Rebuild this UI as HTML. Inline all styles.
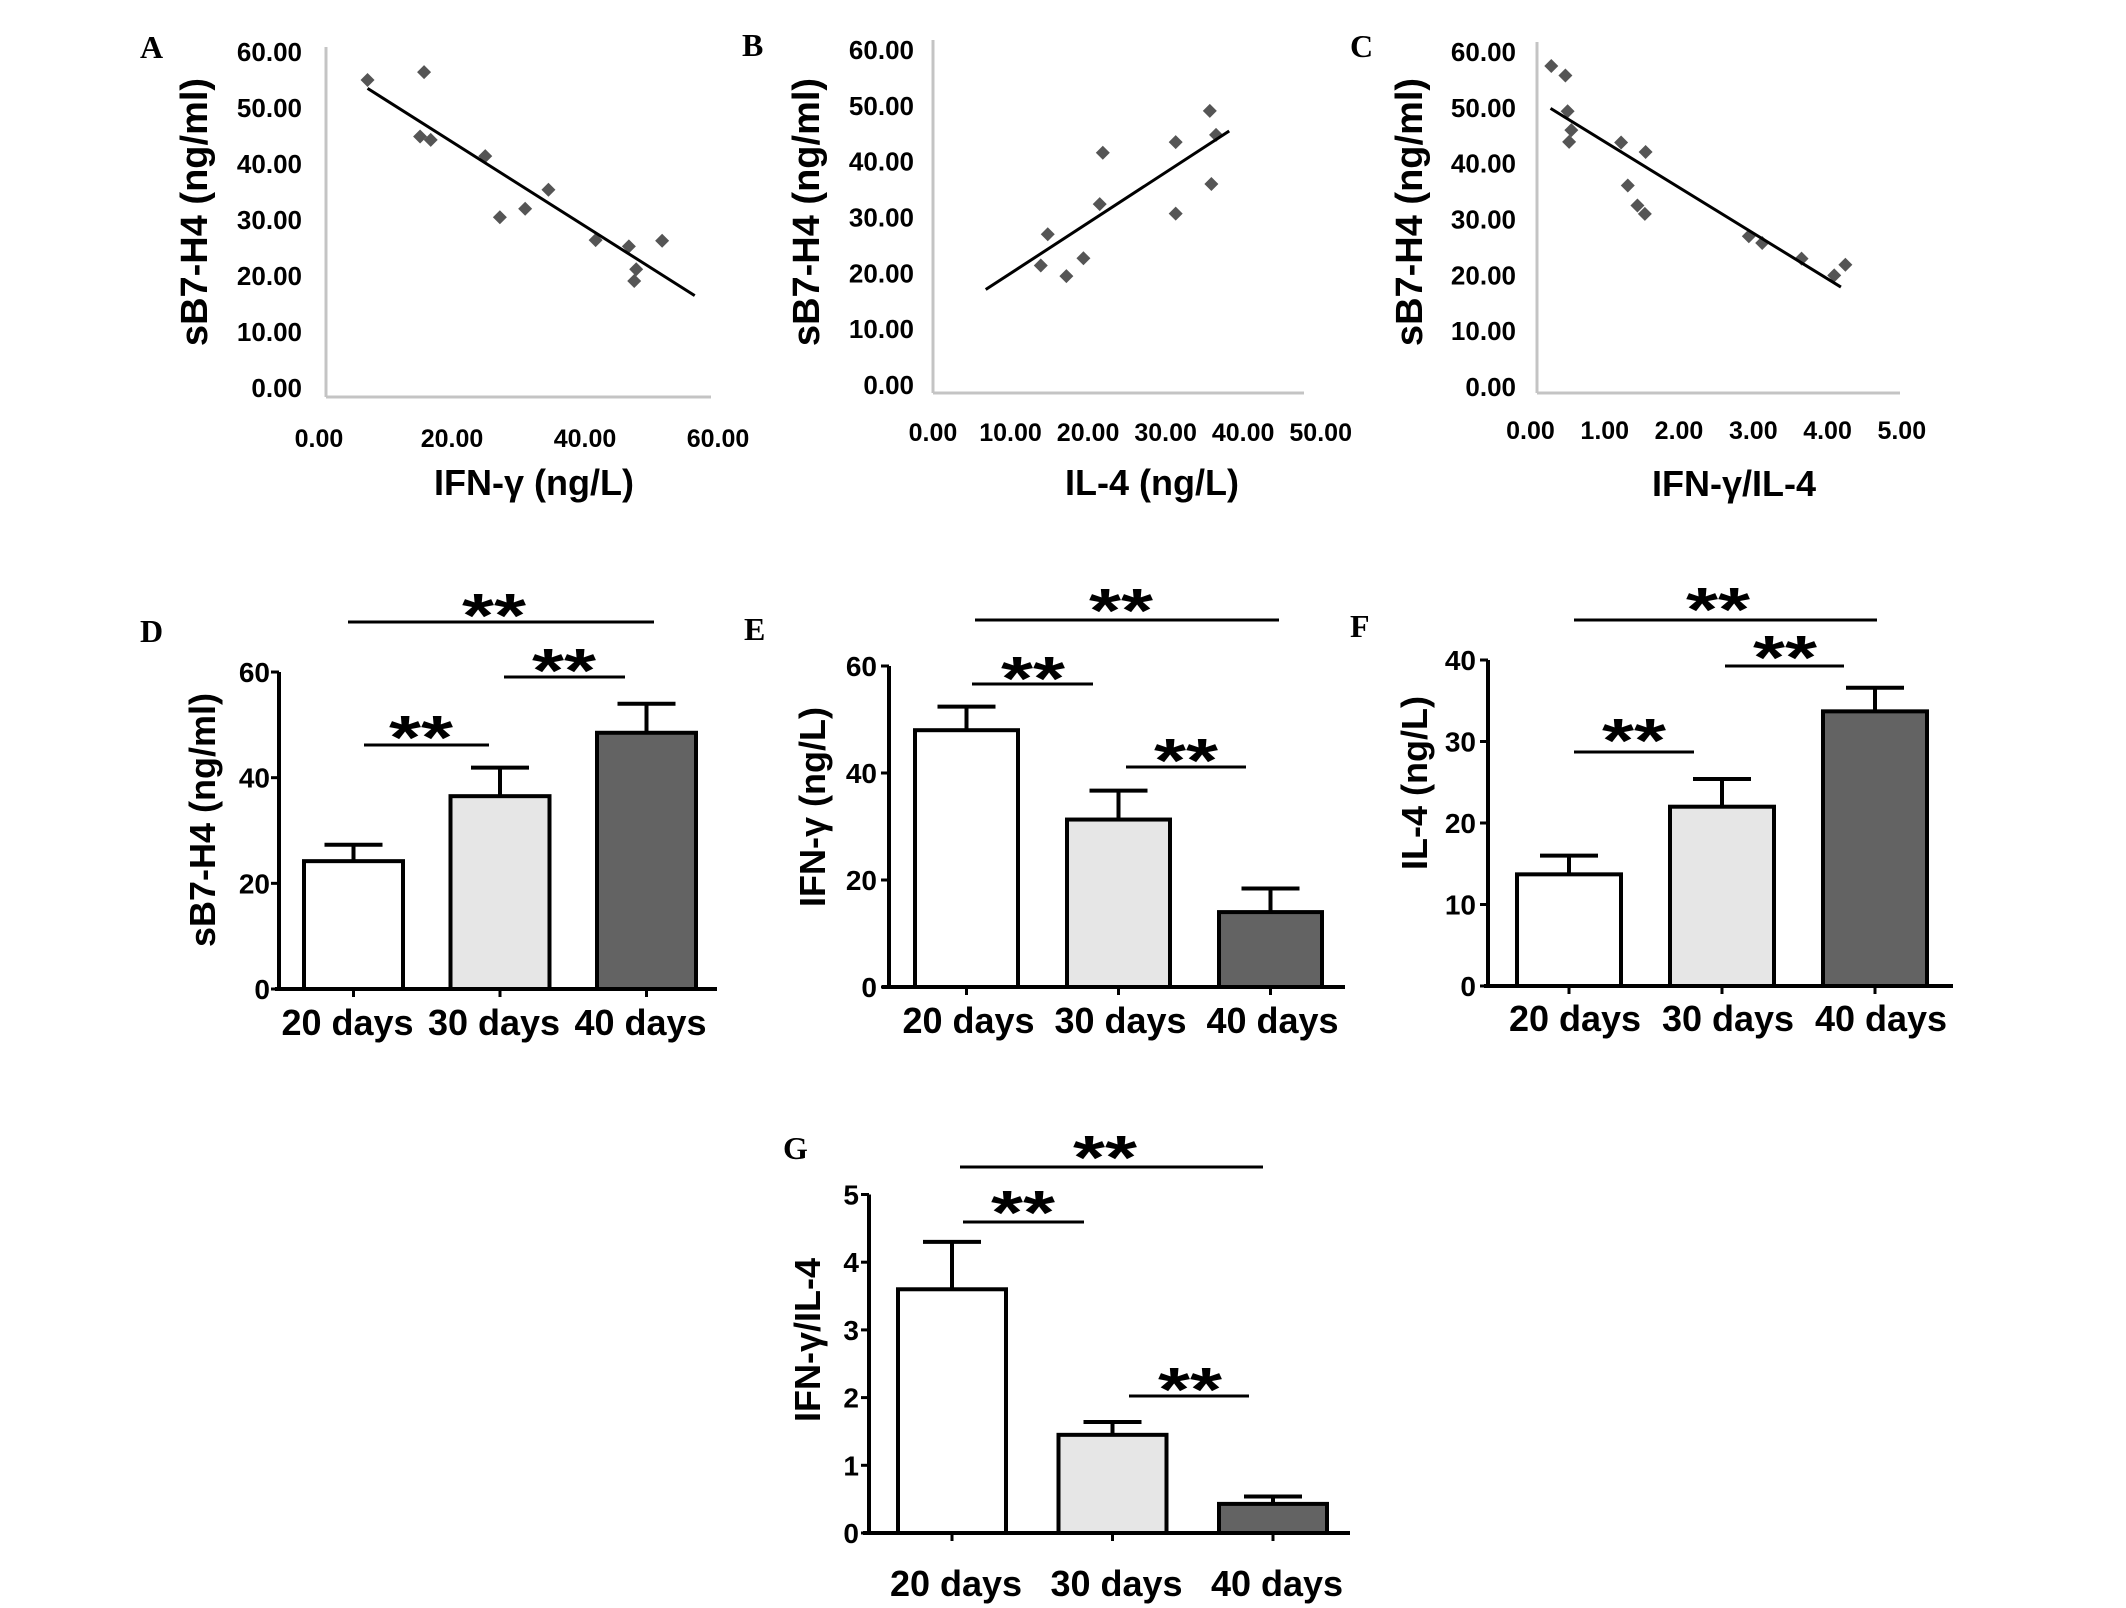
<!DOCTYPE html>
<html><head><meta charset="utf-8"><style>
html,body{margin:0;padding:0;background:#fff;}
svg{display:block;font-family:"Liberation Sans",sans-serif;font-weight:bold;}
.pl{font-family:"Liberation Serif",serif;font-weight:bold;font-size:32px;}
</style></head><body>
<svg id="fig" width="2126" height="1608" viewBox="0 0 2126 1608" xmlns="http://www.w3.org/2000/svg"></svg>
<script>
// ---- Scatter data ----
const aX = [7.3, 15.8, 15.2, 16.8, 25.0, 27.2, 31.0, 34.5, 41.6, 46.6, 47.7, 47.4, 51.6];
const aY = [55.0, 56.4, 44.9, 44.3, 41.4, 30.5, 32.0, 35.4, 26.4, 25.3, 21.2, 19.1, 26.3];
const aFitX = [7.3, 56.5];
const aFitY = [53.5, 16.5];
const bX = [14.8, 13.9, 17.2, 19.4, 21.5, 21.9, 31.3, 31.3, 35.7, 36.5, 35.9];
const bY = [27.0, 21.4, 19.5, 22.7, 32.4, 41.6, 43.5, 30.7, 49.1, 44.8, 36.0];
const bFitX = [6.8, 38.2];
const bFitY = [17.1, 45.5];
const cX = [0.28, 0.47, 0.50, 0.55, 0.52, 1.22, 1.55, 1.31, 1.44, 1.54, 2.94, 3.12, 3.65, 4.09, 4.24];
const cY = [57.5, 55.8, 49.4, 46.0, 43.9, 43.8, 42.1, 36.1, 32.5, 31.0, 27.0, 25.8, 23.0, 20.0, 21.9];
const cFitX = [0.27, 4.18];
const cFitY = [49.9, 17.9];
const scatterYTicks = [0, 10, 20, 30, 40, 50, 60];
const aXTicks = [0, 20, 40, 60];
const bXTicks = [0, 10, 20, 30, 40, 50];
const cXTicks = [0, 1, 2, 3, 4, 5];
// ---- Bar data ----
const categories = ["20 days", "30 days", "40 days"];
const dVals = [24.2, 36.5, 48.5];
const dErr = [27.3, 41.9, 54.0];
const eVals = [48.0, 31.3, 14.0];
const eErr = [52.4, 36.7, 18.4];
const fVals = [13.7, 22.0, 33.7];
const fErr = [16.0, 25.4, 36.6];
const gVals = [3.60, 1.45, 0.43];
const gErr = [4.30, 1.64, 0.54];
const dTicks = [0, 20, 40, 60];
const eTicks = [0, 20, 40, 60];
const fTicks = [0, 10, 20, 30, 40];
const gTicks = [0, 1, 2, 3, 4, 5];

const NS = "http://www.w3.org/2000/svg";
const svg = document.getElementById("fig");
function mk(tag, attrs, parent, txt) {
  const e = document.createElementNS(NS, tag);
  for (const k in attrs) e.setAttribute(k, attrs[k]);
  if (txt !== undefined) e.textContent = txt;
  (parent || svg).appendChild(e);
  return e;
}
function fmt2(v){ return v.toFixed(2); }

function scatter(c) {
  const g = mk("g", {});
  
  
  const xs = v => c.x0 + c.xs * v;
  const ys = v => c.y0 - c.ys * v;
  const lbl = mk("text", {x: c.lx, y: c.ly, class: "pl"}, g, c.letter);
  
  
  const ya = mk("line", {x1: c.ax, y1: c.top, x2: c.ax, y2: c.axY, stroke: "#c4c4c4", "stroke-width": 3}, g);
  
  
  const xa = mk("line", {x1: c.ax, y1: c.axY, x2: c.xEnd, y2: c.axY, stroke: "#c4c4c4", "stroke-width": 3}, g);
  
  
  c.yTicks.forEach(t => {
    const e = mk("text", {x: c.ylx, y: ys(t) + 9, "text-anchor": "end", "font-size": 26}, g, fmt2(t));
    
    
  });
  c.xTicks.forEach(t => {
    const e = mk("text", {x: xs(t), y: c.xly + 9, "text-anchor": "middle", "font-size": 25}, g, fmt2(t));
    
    
  });
  const xt = mk("text", {x: c.xtx, y: c.xty + 13, "text-anchor": "middle", "font-size": 36}, g, c.xTitle);
  
  
  const yt = mk("text", {x: 0, y: 0, "text-anchor": "middle", "font-size": 38, transform: `translate(${c.ytx + 13},${c.yty}) rotate(-90)`}, g, c.yTitle);
  
  
  c.px.forEach((v, i) => {
    const cx = xs(v), cy = ys(c.py[i]);
    const p = mk("polygon", {points: `${cx},${cy-7} ${cx+7},${cy} ${cx},${cy+7} ${cx-7},${cy}`, fill: "#555"}, g);
    
    
  });
  const fl = mk("line", {x1: xs(c.fx[0]), y1: ys(c.fy[0]), x2: xs(c.fx[1]), y2: ys(c.fy[1]), stroke: "#000", "stroke-width": 3}, g);
  
  
}

scatter({name: "scatter-a", letter: "A", lx: 140, ly: 58, x0: 319, xs: 6.65, y0: 388, ys: 5.6, ax: 326, top: 47, axY: 397, xEnd: 711,
  ylx: 302, xly: 438, yTicks: scatterYTicks, xTicks: aXTicks, xTitle: "IFN-γ (ng/L)", xtx: 534, xty: 482,
  yTitle: "sB7-H4 (ng/ml)", ytx: 194, yty: 212, px: aX, py: aY, fx: aFitX, fy: aFitY});
scatter({name: "scatter-b", letter: "B", lx: 742, ly: 56, x0: 933, xs: 7.754, y0: 385, ys: 5.583, ax: 933, top: 40, axY: 393, xEnd: 1304,
  ylx: 914, xly: 432, yTicks: scatterYTicks, xTicks: bXTicks, xTitle: "IL-4 (ng/L)", xtx: 1152, xty: 482,
  yTitle: "sB7-H4 (ng/ml)", ytx: 806, yty: 212, px: bX, py: bY, fx: bFitX, fy: bFitY});
scatter({name: "scatter-c", letter: "C", lx: 1350, ly: 57, x0: 1530.5, xs: 74.26, y0: 387, ys: 5.583, ax: 1537, top: 42, axY: 393, xEnd: 1900,
  ylx: 1516, xly: 430, yTicks: scatterYTicks, xTicks: cXTicks, xTitle: "IFN-γ/IL-4", xtx: 1734, xty: 483,
  yTitle: "sB7-H4 (ng/ml)", ytx: 1409, yty: 212, px: cX, py: cY, fx: cFitX, fy: cFitY});

const fills = ["#ffffff", "#e6e6e6", "#636363"];
function bars(c) {
  const g = mk("g", {});
  
  
  const ys = v => c.y0 - c.ys * v;
  const bx = i => c.left + i * c.step;
  const cx = i => bx(i) + c.w / 2;
  const lbl = mk("text", {x: c.lx, y: c.ly, class: "pl"}, g, c.letter);
  
  
  c.vals.forEach((v, i) => {
    const r = mk("rect", {x: bx(i), y: ys(v), width: c.w, height: c.y0 - ys(v), fill: fills[i], stroke: "#000", "stroke-width": 4}, g);
    
    
    const el = mk("path", {d: `M${cx(i)},${ys(v)} V${ys(c.err[i])} M${cx(i)-29},${ys(c.err[i])} H${cx(i)+29}`, stroke: "#000", "stroke-width": 4, fill: "none"}, g);
    
    
    const tk = mk("line", {x1: cx(i), y1: c.y0, x2: cx(i), y2: c.y0 + 8, stroke: "#000", "stroke-width": 3}, g);
    
    
    const t = mk("text", {x: cx(i) + c.catDx, y: c.catY + 13, "text-anchor": "middle", "font-size": 36}, g, categories[i]);
    
    
  });
  const top = ys(c.ticks[c.ticks.length - 1]);
  const ya = mk("line", {x1: c.ax, y1: top, x2: c.ax, y2: c.y0, stroke: "#000", "stroke-width": 4}, g);
  
  
  const xa = mk("line", {x1: c.xa0, y1: c.y0, x2: c.xa1, y2: c.y0, stroke: "#000", "stroke-width": 4}, g);
  
  
  c.ticks.forEach(t => {
    const tk = mk("line", {x1: c.ax - 8, y1: ys(t), x2: c.ax, y2: ys(t), stroke: "#000", "stroke-width": 3}, g);
    
    
    const e = mk("text", {x: c.tlx, y: ys(t) + 10, "text-anchor": "end", "font-size": 28}, g, String(t));
    
    
  });
  const yt = mk("text", {x: 0, y: 0, "text-anchor": "middle", "font-size": 36, transform: `translate(${c.ytx + 13},${c.yty}) rotate(-90)`}, g, c.yTitle);
  
  
  c.sig.forEach(s => {
    const l = mk("line", {x1: s[0], y1: s[2], x2: s[1], y2: s[2], stroke: "#000", "stroke-width": 3}, g);
    
    
    const st = mk("text", {x: s[3], y: s[4] + 34, "text-anchor": "middle", "font-size": 62, textLength: 64, lengthAdjust: "spacingAndGlyphs"}, g, "**");
    
    
  });
}

bars({name: "bar-chart-d", letter: "D", lx: 140, ly: 642, vals: dVals, err: dErr, ticks: dTicks, y0: 989, ys: 5.283,
  left: 304, step: 146.5, w: 99, ax: 279, xa0: 275, xa1: 717, tlx: 270, catY: 1022, catDx: -6,
  yTitle: "sB7-H4 (ng/ml)", ytx: 202, yty: 820,
  sig: [[348, 654, 622, 494, 603], [504, 625, 677, 564, 658], [364, 489, 745, 421, 725]]});
bars({name: "bar-chart-e", letter: "E", lx: 744, ly: 640, vals: eVals, err: eErr, ticks: eTicks, y0: 987, ys: 5.35,
  left: 915, step: 152, w: 103, ax: 889, xa0: 882, xa1: 1345, tlx: 877, catY: 1020, catDx: 2,
  yTitle: "IFN-γ (ng/L)", ytx: 812, yty: 807,
  sig: [[975, 1279, 620, 1121, 598], [972, 1093, 684, 1033, 666], [1126, 1246, 767, 1186, 748]]});
bars({name: "bar-chart-f", letter: "F", lx: 1350, ly: 637, vals: fVals, err: fErr, ticks: fTicks, y0: 986, ys: 8.15,
  left: 1517, step: 153, w: 104, ax: 1488, xa0: 1484, xa1: 1953, tlx: 1476, catY: 1018, catDx: 6,
  yTitle: "IL-4 (ng/L)", ytx: 1414, yty: 783,
  sig: [[1574, 1877, 620, 1718, 597], [1725, 1844, 666, 1785, 645], [1574, 1694, 752, 1634, 728]]});
bars({name: "bar-chart-g", letter: "G", lx: 783, ly: 1159, vals: gVals, err: gErr, ticks: gTicks, y0: 1533, ys: 67.7,
  left: 898, step: 160.5, w: 108, ax: 869, xa0: 863, xa1: 1350, tlx: 859, catY: 1583, catDx: 4,
  yTitle: "IFN-γ/IL-4", ytx: 807, yty: 1340,
  sig: [[960, 1263, 1167, 1105, 1145], [963, 1084, 1222, 1023, 1200], [1129, 1249, 1396, 1190, 1377]]});
</script>
</body></html>
